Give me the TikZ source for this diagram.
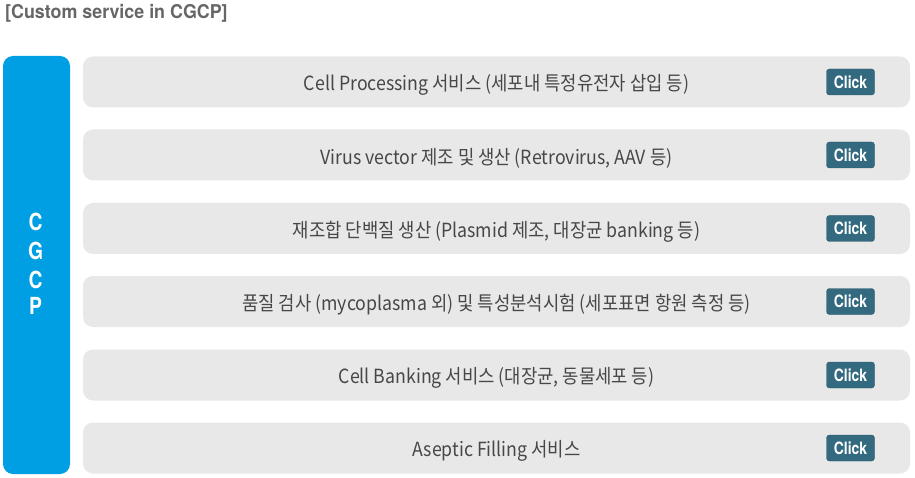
\documentclass[tikz,border=0pt]{standalone}
\usepackage{fontspec}
\setmainfont{TeX Gyre Heros}
\newfontfamily\kr[FakeStretch=0.91]{Noto Sans CJK KR}
\newfontfamily\cond[FakeStretch=0.82]{TeX Gyre Heros}
\newfontfamily\ttlfont[FakeStretch=0.94]{TeX Gyre Heros}
\definecolor{cblue}{HTML}{009FE3}
\definecolor{rowgray}{HTML}{E8E8E8}
\definecolor{btn}{HTML}{336A80}
\definecolor{txt}{HTML}{474747}
\definecolor{ttl}{HTML}{666666}
\begin{document}
\begin{tikzpicture}[x=1pt,y=-1pt,
  rowbox/.style={fill=rowgray, rounded corners=10pt, minimum width=827pt, minimum height=51pt, inner sep=0pt},
  rowtext/.style={text=txt, font=\kr\fontsize{19.5}{21}\selectfont, inner sep=0pt},
  clickbtn/.style={fill=btn, draw=btn!80!black, line width=0.4pt, rounded corners=3pt, minimum width=48pt, minimum height=26pt, inner sep=0pt, text=white, font=\cond\bfseries\fontsize{17}{18}\selectfont},
  letter/.style={text=white, font=\cond\bfseries\fontsize{23.5}{24}\selectfont, inner sep=0pt}]
\useasboundingbox (0,0) rectangle (915,478);
\node[anchor=west, text=ttl, font=\ttlfont\bfseries\fontsize{19}{20}\selectfont, inner sep=0pt] (title) at (5,13) {[Custom service in CGCP]};
\node[fill=cblue, rounded corners=10pt, minimum width=67pt, minimum height=418pt, inner sep=0pt] (bar) at (36.5,265) {};
\node[letter] (l1) at (35.5,222) {C};
\node[letter] (l2) at (35.5,251) {G};
\node[letter] (l3) at (35.5,280) {C};
\node[letter] (l4) at (35.5,306) {P};
\foreach \i/\y/\t in {1/82/{Cell Processing 서비스 (세포내 특정유전자 삽입 등)},
  2/155/{Virus vector 제조 및 생산 (Retrovirus, AAV 등)},
  3/228.5/{재조합 단백질 생산 (Plasmid 제조, 대장균 banking 등)},
  4/301.5/{품질 검사 (mycoplasma 외) 및 특성분석시험 (세포표면 항원 측정 등)},
  5/375/{Cell Banking 서비스 (대장균, 동물세포 등)},
  6/448/{Aseptic Filling 서비스}}{
  \node[rowbox] (r\i) at (496.5,\y) {};
  \node[rowtext] (t\i) at (496.5,\y+3) {\t};
  \node[clickbtn] (c\i) at (850.5,\y) {Click};
}
\end{tikzpicture}
\end{document}
